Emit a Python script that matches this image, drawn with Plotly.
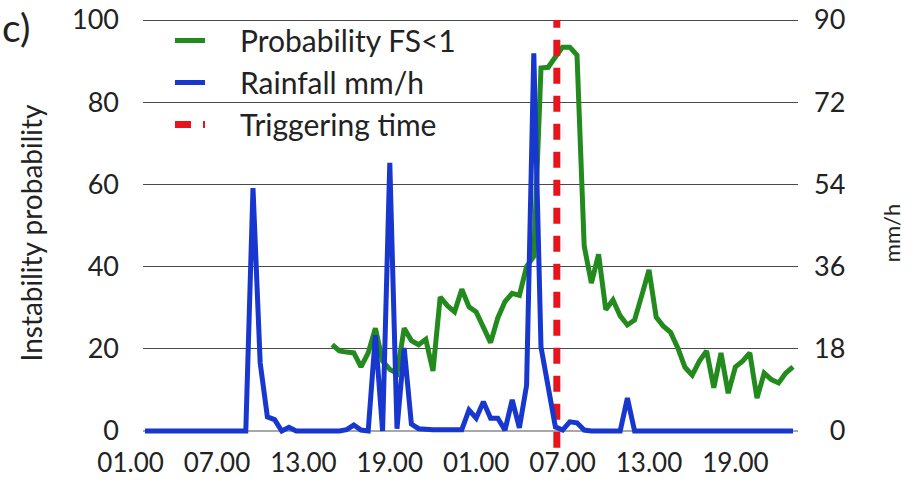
import plotly.graph_objects as go

# ---- data (half-hourly, hours counted from 01.00 of day 1) ----
hours = [1.0 + 0.5 * i for i in range(91)]

rain_mmh = [
    0, 0, 0, 0, 0, 0, 0, 0, 0, 0, 0, 0, 0, 0, 0,
    53.2, 14.9, 3.1, 2.5, 0, 0.8,
    0, 0, 0, 0, 0, 0, 0,
    0.3, 1.3, 0.2, 0, 21, 0, 58.7, 0.5, 18.2, 1.5,
    0.5, 0.3, 0.3, 0.3, 0.3, 0.2, 0.3, 4.6, 2.8, 6.4,
    2.8, 2.8, 0.2, 6.8, 0.7, 10, 82.7, 18.4, 9.6, 0.9,
    0.2, 2, 1.8, 0.2,
    0, 0, 0, 0, 0,
    7.2,
    0, 0, 0, 0, 0, 0, 0, 0, 0, 0, 0, 0, 0, 0, 0, 0, 0, 0, 0, 0, 0, 0, 0,
]

prob_fs = [None] * 26 + [
    21, 19.5, 19.2, 19, 15.6, 19, 25, 17, 15, 14,
    25, 22, 21, 22.3, 14.6, 32.6, 30.5, 29, 34.5, 30.2,
    29, 25, 21.5, 27.5, 31.5, 33.5, 33, 40, 42.5, 88.3,
    88.5, 91, 93.4, 93.4, 91.5, 45, 36, 43, 29.5, 31.9,
    28, 25.8, 27, 33, 39.2, 27.7, 25.5, 24, 20.2, 15.5,
    13.6, 17, 19.5, 10.5, 19, 9.2, 15.6, 17, 19, 8,
    14.1, 12.5, 11.7, 14.1, 15.6,
]

trigger_hour = 29.6
trigger_span = [-4.1, 100]

x_tickvals = [0, 6, 12, 18, 24, 30, 36, 42]
x_ticktext = ["01.00", "07.00", "13.00", "19.00", "01.00", "07.00", "13.00", "19.00"]
left_ticks = [0, 20, 40, 60, 80, 100]
right_ticks = [0, 18, 36, 54, 72, 90]
right_ticktext = ["\u20070", "18", "36", "54", "72", "90"]

FONT = "Lato, 'Open Sans', sans-serif"
TXT = "#222222"
GAP = "\u2002\u2002"  # spacing between legend sample and legend text

fig = go.Figure()
fig.add_trace(go.Scatter(
    x=hours, y=prob_fs, name=GAP + "Probability FS<1", mode="lines",
    line=dict(color="#238a1e", width=5), yaxis="y",
))
fig.add_trace(go.Scatter(
    x=hours, y=rain_mmh, name=GAP + "Rainfall mm/h", mode="lines",
    line=dict(color="#1737cf", width=5), yaxis="y2",
))
fig.add_trace(go.Scatter(
    x=[trigger_hour, trigger_hour], y=trigger_span, name=GAP + "Triggering time", mode="lines",
    line=dict(color="#e8141c", width=7, dash="16px,12px"), yaxis="y",
))

PX_PER_H = 14.4
PLOT_W = 672
PLOT_H = 430
x0 = -0.319
x1 = x0 + PLOT_W / PX_PER_H

fig.update_layout(
    width=918, height=480,
    margin=dict(l=126, r=120, t=18, b=32, autoexpand=False),
    paper_bgcolor="white", plot_bgcolor="white",
    font=dict(family=FONT, color=TXT, size=27),
    showlegend=True,
    legend=dict(
        x=(170 - 126) / PLOT_W, y=1.008, xanchor="left", yanchor="top",
        bgcolor="rgba(0,0,0,0)", borderwidth=0,
        font=dict(size=30, family=FONT, color=TXT),
    ),
    xaxis=dict(
        range=[x0, x1], tickvals=x_tickvals, ticktext=x_ticktext,
        showgrid=False, zeroline=False, showline=False, ticks="",
        tickfont=dict(size=26), fixedrange=True, automargin=False,
        ticklabelstandoff=-3,
    ),
    yaxis=dict(
        range=[-4.136, 100.49], tickvals=left_ticks,
        showgrid=True, gridcolor="#4a4a4a", gridwidth=1,
        zeroline=True, zerolinecolor="#a8a8a8", zerolinewidth=2,
        showline=False, ticks="", ticklabelstandoff=6, automargin=False,
        tickfont=dict(size=27), fixedrange=True,
        title=dict(text="Instability probability", font=dict(size=28), standoff=21),
    ),
    yaxis2=dict(
        range=[-3.722, 90.44], tickvals=right_ticks, ticktext=right_ticktext,
        overlaying="y", side="right", showgrid=False, zeroline=False,
        showline=False, ticks="", ticklabelstandoff=15, automargin=False,
        tickfont=dict(size=27), fixedrange=True,
        title=dict(text="mm/h", font=dict(size=22), standoff=40),
    ),
    shapes=[dict(
        type="rect", xref="x", yref="paper", x0=x0, x1=0.86, y0=0, y1=1,
        fillcolor="white", line=dict(width=0), layer="above",
    )],
    annotations=[dict(
        text="c)", xref="paper", yref="paper", x=-126 / PLOT_W, y=1 + 16 / PLOT_H,
        xanchor="left", yanchor="top", showarrow=False,
        font=dict(size=39, family=FONT, color=TXT),
    )],
)

fig.write_html(
    "out.html",
    config={"displayModeBar": False},
    post_script="document.body.style.margin='0px';document.body.style.padding='0px';",
)
